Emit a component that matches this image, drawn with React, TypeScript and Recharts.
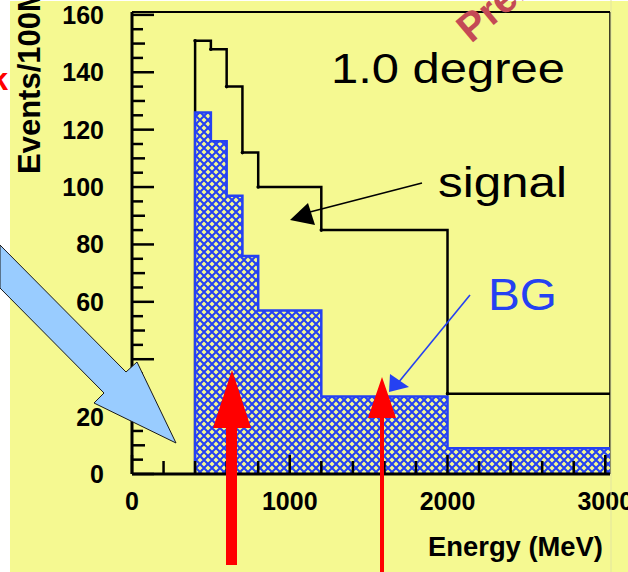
import { ComposedChart, Line, Area, XAxis, YAxis, ReferenceLine } from 'recharts'

// histogram bin edges (MeV) and counts per bin
const binEdges = [400, 500, 600, 700, 800, 1200, 2000, 3030]
const signalCounts = [151, 148, 135, 112, 100, 85, 28]
const bgCounts = [126, 116, 97, 76, 57, 27, 9]

const xTicks = [0, 200, 400, 600, 800, 1000, 1200, 1400, 1600, 1800, 2000, 2200, 2400, 2600, 2800, 3000]
const yTicks = [
  0, 5, 10, 15, 20, 25, 30, 35, 40, 45, 50, 55, 60, 65, 70, 75, 80,
  85, 90, 95, 100, 105, 110, 115, 120, 125, 130, 135, 140, 145, 150, 155, 160,
]
const xLabels = [0, 1000, 2000, 3000]
const yLabels = [0, 20, 40, 60, 80, 100, 120, 140, 160]

const BG_YELLOW = '#F5F991'
const BLUE = '#2541F2'
const FONT = '"Liberation Sans", Arial, sans-serif'

// step rows: a zero row opens the first bin, the last edge closes the final bin
const rows = [
  { e: binEdges[0], signal: 0, bg: 0 },
  ...signalCounts.map((s, i) => ({ e: binEdges[i], signal: s, bg: bgCounts[i] })),
  {
    e: binEdges[binEdges.length - 1],
    signal: signalCounts[signalCounts.length - 1],
    bg: bgCounts[bgCounts.length - 1],
  },
]

function XTick({ x, y, payload }: any) {
  const v = payload.value
  const major = v % 1000 === 0
  return (
    <g>
      <line x1={x} x2={x} y1={y} y2={y - (major ? 19 : 13)} stroke="#000" strokeWidth={2.5} />
      {xLabels.includes(v) && (
        <text x={x} y={y + 36} textAnchor="middle" fontFamily={FONT} fontWeight="bold" fontSize={25} fill="#000">
          {v}
        </text>
      )}
    </g>
  )
}

function YTick({ x, y, payload }: any) {
  const v = payload.value
  const len = v % 20 === 0 ? 22 : v % 10 === 0 ? 13 : 11
  return (
    <g>
      <line x1={x} x2={x + len} y1={y} y2={y} stroke="#000" strokeWidth={2.5} />
      {yLabels.includes(v) && (
        <text x={x - 28} y={y + 9} textAnchor="end" fontFamily={FONT} fontWeight="bold" fontSize={25} fill="#000">
          {v}
        </text>
      )}
    </g>
  )
}

function CornerDot({ cx, cy, index }: any) {
  if (index === 0 || index === rows.length - 1) return <g key={index} />
  return <circle key={index} cx={cx} cy={cy} r={1.8} fill="#000" />
}

function Annotations() {
  return (
    <svg width={628} height={572} style={{ position: 'absolute', left: 0, top: 0 }}>
      <line x1={611} x2={611} y1={0} y2={572} stroke="#E2E5A0" strokeWidth={1} />

      <text
        transform="translate(40,174) rotate(-90)"
        fontFamily={FONT}
        fontWeight="bold"
        fontSize={31}
        fill="#000"
      >
        Events/100MeV
      </text>
      <text x={428} y={556} fontFamily={FONT} fontWeight="bold" fontSize={28} textLength={175} lengthAdjust="spacingAndGlyphs">
        Energy (MeV)
      </text>

      <text x={331} y={83} fontFamily={FONT} fontSize={42} textLength={234} lengthAdjust="spacingAndGlyphs">
        1.0 degree
      </text>
      <text x={438} y={197} fontFamily={FONT} fontSize={42} textLength={129} lengthAdjust="spacingAndGlyphs">
        signal
      </text>
      <text x={488} y={310} fontFamily={FONT} fontSize={44} fill={BLUE} textLength={69} lengthAdjust="spacingAndGlyphs">
        BG
      </text>

      <text x={8} y={90} textAnchor="end" fontFamily={FONT} fontWeight="bold" fontSize={32} fill="#FF0000">
        k
      </text>
      <text transform="translate(471,44) rotate(-40)" fontFamily={FONT} fontWeight="bold" fontSize={40} fill="#C44A55">
        Preliminary
      </text>

      {/* signal pointer */}
      <line x1={422} y1={183} x2={306} y2={213} stroke="#000" strokeWidth={1.6} />
      <polygon points="290,220 308,203 315,225" fill="#000" />

      {/* BG pointer */}
      <line x1={470} y1={295} x2={398} y2={383} stroke={BLUE} strokeWidth={1.6} />
      <polygon points="389,392 390,374 409,387" fill={BLUE} />

      {/* block arrow toward threshold */}
      <polygon
        points="0,245 126,372 137,362 176,443 94,403 104,393 0,288"
        fill="#99CCFF"
        stroke="#1a1a1a"
        strokeWidth={1}
      />

      {/* red markers */}
      <polygon points="226,565 226,428 213,428 232,370 251,428 237,428 237,565" fill="#FF0000" />
      <polygon points="380,572 380,418 368,418 382,377 396,418 384,418 384,572" fill="#FF0000" />
    </svg>
  )
}

export default function App() {
  return (
    <div style={{ position: 'absolute', left: 0, top: 0, width: 628, height: 572, background: '#fff', overflow: 'hidden' }}>
      <div style={{ position: 'absolute', left: 10, top: 1, width: 618, height: 571, background: BG_YELLOW }} />
      <div style={{ position: 'absolute', left: 0, top: 0 }}>
        <ComposedChart width={628} height={572} data={rows} margin={{ top: 12, right: 18, bottom: 97, left: 131 }}>
          <defs>
            <pattern id="bgHatch" width={8} height={8} patternUnits="userSpaceOnUse">
              <rect width={8} height={8} fill={BG_YELLOW} />
              <path d="M0,0L8,8M8,0L0,8" stroke={BLUE} strokeWidth={2.1} />
            </pattern>
          </defs>
          <XAxis
            dataKey="e"
            type="number"
            domain={[0, 3030]}
            ticks={xTicks}
            interval={0}
            height={1}
            tickSize={0}
            tickMargin={0}
            tickLine={false}
            axisLine={{ stroke: '#000', strokeWidth: 3 }}
            tick={<XTick />}
            allowDataOverflow
          />
          <YAxis
            type="number"
            domain={[0, 161]}
            ticks={yTicks}
            interval={0}
            width={1}
            tickSize={0}
            tickMargin={0}
            tickLine={false}
            axisLine={{ stroke: '#000', strokeWidth: 3 }}
            tick={<YTick />}
            allowDataOverflow
          />
          <ReferenceLine y={161} stroke="#000" strokeWidth={2} />
          <ReferenceLine x={3030} stroke="#000" strokeWidth={1.5} />
          <Line
            type="stepAfter"
            dataKey="signal"
            stroke="#000"
            strokeWidth={2.5}
            dot={CornerDot}
            activeDot={false}
            isAnimationActive={false}
          />
          <Area
            type="stepAfter"
            dataKey="bg"
            stroke={BLUE}
            strokeWidth={2.5}
            fill="url(#bgHatch)"
            fillOpacity={1}
            zIndex={450}
            isAnimationActive={false}
          />
        </ComposedChart>
      </div>
      <Annotations />
    </div>
  )
}
